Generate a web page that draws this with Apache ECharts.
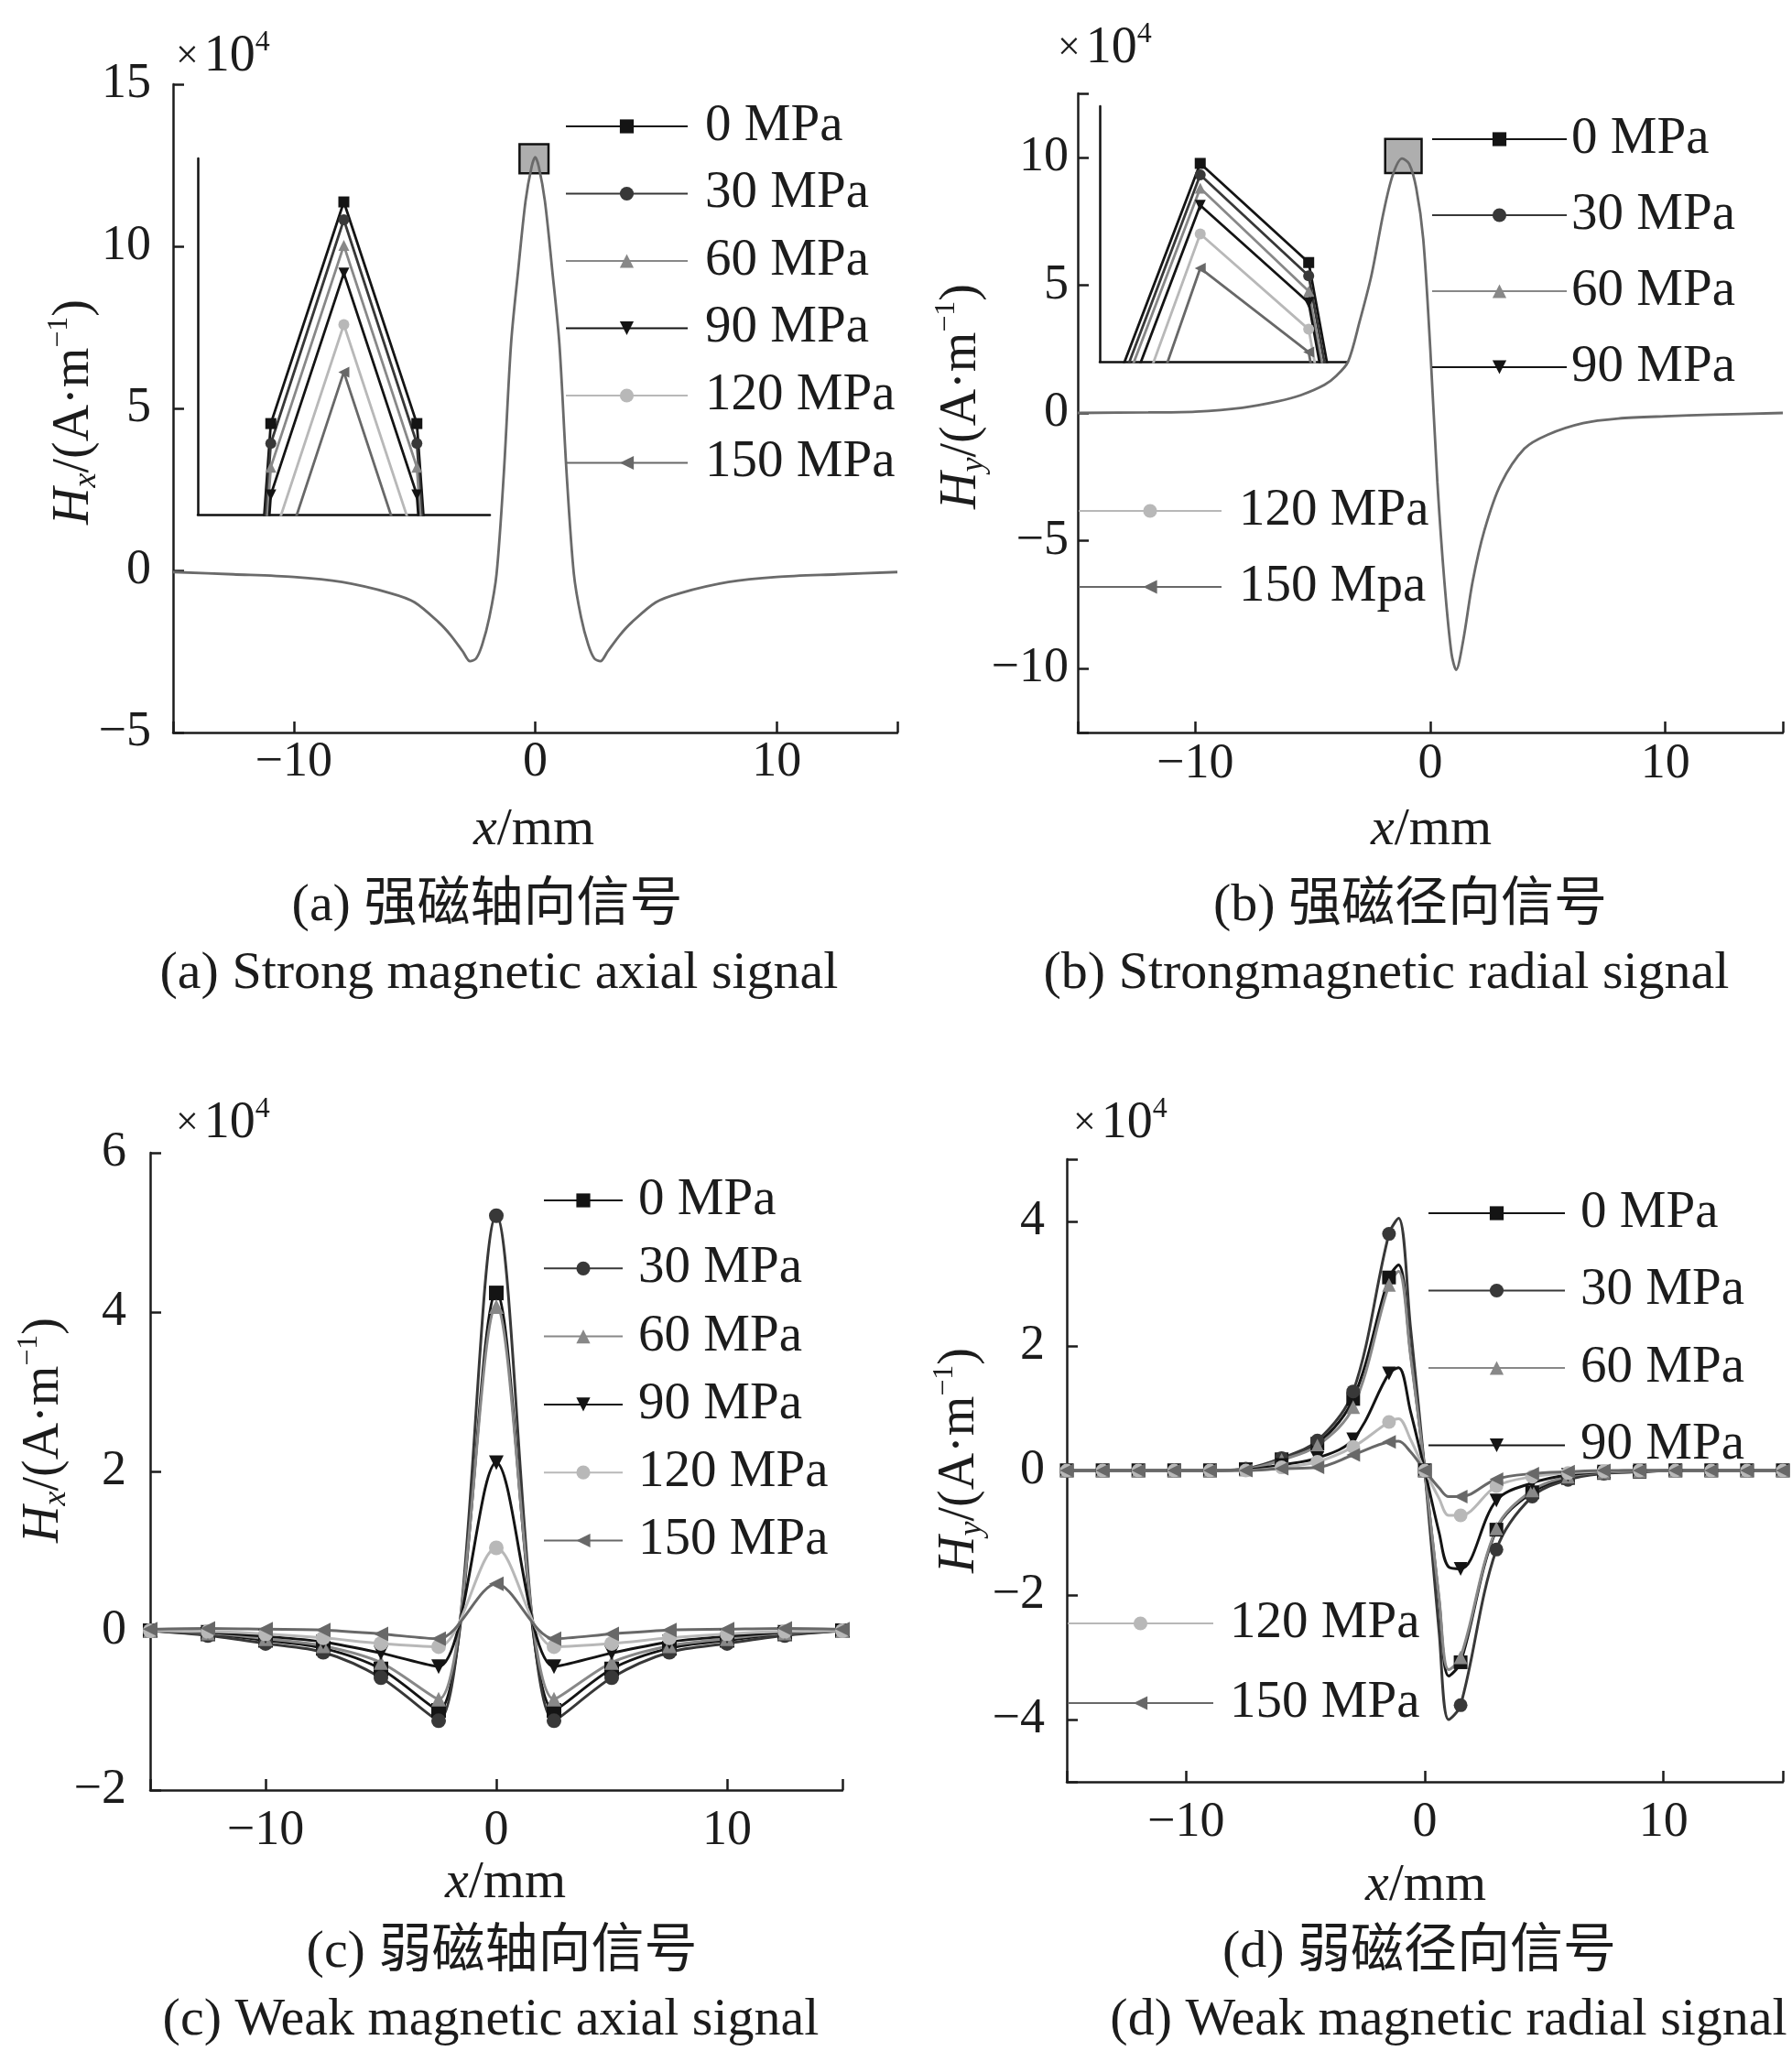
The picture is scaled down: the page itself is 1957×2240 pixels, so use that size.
<!DOCTYPE html>
<html>
<head>
<meta charset="utf-8">
<script src="https://cdn.jsdelivr.net/npm/echarts@6/dist/echarts.min.js"></script>
<style>
html,body{margin:0;padding:0;background:#ffffff;}
#chart{width:1957px;height:2240px;}
</style>
</head>
<body>
<div id="chart"></div>
<script>
// ---------------- DATA ----------------
const stressNames = ['0 MPa', '30 MPa', '60 MPa', '90 MPa', '120 MPa', '150 MPa'];

// shared tick values (x in mm)
const xTickVals = [-15, -10, 0, 10, 15];
const xLabelVals = [-10, 0, 10];

// (a) strong magnetic axial signal, Hx (x10^4 A/m) - the six curves overlap
const aX = [-15, -12.5, -10, -8, -6, -5, -4, -3.5, -3, -2.7, -2.45, -2.2, -1.9, -1.6, -1.3, -1.0, -0.7, -0.4, -0.15, 0,
            0.15, 0.4, 0.7, 1.0, 1.3, 1.6, 1.9, 2.2, 2.45, 2.7, 3, 3.5, 4, 5, 6, 8, 10, 12.5, 15];
const aY = [-0.05, -0.12, -0.2, -0.36, -0.7, -0.98, -1.6, -2.0, -2.5, -2.8, -2.72, -2.3, -1.45, -0.1, 3.0, 7.0, 9.3, 11.4, 12.45, 12.75,
            12.45, 11.4, 9.3, 7.0, 3.0, -0.1, -1.45, -2.3, -2.72, -2.8, -2.5, -2.0, -1.6, -0.98, -0.7, -0.36, -0.2, -0.12, -0.05];
const aYTicks = [-5, 0, 5, 10, 15];
// zoom window shown by the inset of (a): [xmin, ymin], [xmax, ymax]
const aBox = [[-0.65, 12.25], [0.55, 13.15]];
const aInsetX = [-0.65, -0.35, -0.05, 0.25, 0.55];
const aInset0   = [9.90, 12.48, 13.04, 12.48, 9.90];
const aInset30  = [9.85, 12.43, 12.995, 12.43, 9.85];
const aInset60  = [9.80, 12.37, 12.93, 12.37, 9.80];
const aInset90  = [9.72, 12.30, 12.86, 12.30, 9.72];
const aInset120 = [9.60, 12.17, 12.73, 12.17, 9.60];
const aInset150 = [9.48, 12.05, 12.61, 12.05, 9.48];

// (b) strong magnetic radial signal, Hy
const bX = [-15, -12, -10, -8, -6.5, -5.5, -4.5, -4, -3.5, -3, -2.5, -2, -1.6, -1.2, -0.9, -0.6, -0.3, 0,
            0.3, 0.6, 0.9, 1.1, 1.4, 1.8, 2.3, 3, 4, 5, 6.5, 8, 10, 12, 15];
const bY = [0, 0.02, 0.05, 0.2, 0.45, 0.7, 1.1, 1.45, 2.0, 3.6, 5.4, 7.8, 9.3, 9.95, 9.75, 8.8, 6.8, 2.5,
            -2.7, -6.6, -9.4, -10.05, -8.9, -6.6, -4.6, -2.78, -1.4, -0.85, -0.4, -0.22, -0.13, -0.07, 0];
const bYTicks = [-12.5, -10, -5, 0, 5, 10, 12.5];
const bYLabels = [-10, -5, 0, 5, 10];
const bBox = [[-1.92, 9.38], [-0.37, 10.72]];
const bInsetX = [-1.96, -1.29, -0.61, 0.06];
const bInset0   = [8.95, 10.42, 9.90, 6.83];
const bInset30  = [8.88, 10.36, 9.83, 6.75];
const bInset60  = [8.82, 10.29, 9.75, 6.68];
const bInset90  = [8.72, 10.20, 9.69, 6.60];
const bInset120 = [8.51, 10.05, 9.55, 6.45];
const bInset150 = [8.26, 9.87, 9.43, 6.30];

// (c) weak magnetic axial signal, Hx
const cX = [-15, -12.5, -10, -7.5, -5, -2.5, 0, 2.5, 5, 7.5, 10, 12.5, 15];
const c0   = [0, -0.04, -0.12, -0.22, -0.48, -1.00, 4.24, -1.00, -0.48, -0.22, -0.12, -0.04, 0];
const c30  = [0, -0.06, -0.16, -0.27, -0.59, -1.13, 5.21, -1.13, -0.59, -0.27, -0.16, -0.06, 0];
const c60  = [0, -0.03, -0.10, -0.19, -0.40, -0.86, 4.07, -0.86, -0.40, -0.19, -0.10, -0.03, 0];
const c90  = [0, -0.02, -0.07, -0.14, -0.28, -0.45, 2.11, -0.45, -0.28, -0.14, -0.07, -0.02, 0];
const c120 = [0, -0.01, -0.04, -0.09, -0.16, -0.20, 1.04, -0.20, -0.16, -0.09, -0.04, -0.01, 0];
const c150 = [0.02, 0.03, 0.02, 0.01, -0.04, -0.10, 0.59, -0.10, -0.04, 0.01, 0.02, 0.03, 0.02];
const cYTicks = [-2, 0, 2, 4, 6];

// (d) weak magnetic radial signal, Hy (markers every 1.5 mm, extra curve points in between)
const dX = [-15, -13.5, -12, -10.5, -9, -7.5, -6, -4.5, -3, -1.5, -1.1, -0.6, 0, 0.6, 1.0, 1.5, 3, 4.5, 6, 7.5, 9, 10.5, 12, 13.5, 15];
const d0   = [0, 0, 0, 0, 0, 0.02, 0.18, 0.43, 1.15, 3.10, 3.30, 1.90, 0, -2.10, -3.30, -3.08, -0.95, -0.35, -0.12, -0.04, -0.02, 0, 0, 0, 0];
const d30  = [0, 0, 0, 0, 0, 0.03, 0.20, 0.48, 1.27, 3.80, 4.05, 2.30, 0, -2.60, -4.00, -3.77, -1.27, -0.42, -0.15, -0.05, -0.02, 0, 0, 0, 0];
const d60  = [0, 0, 0, 0, 0, 0.02, 0.17, 0.40, 1.02, 2.98, 3.20, 1.85, 0, -2.05, -3.20, -3.00, -0.93, -0.32, -0.10, -0.03, -0.01, 0, 0, 0, 0];
const d90  = [0, 0, 0, 0, 0, 0.01, 0.09, 0.20, 0.50, 1.56, 1.65, 0.95, 0, -1.00, -1.55, -1.58, -0.48, -0.20, -0.07, -0.02, 0, 0, 0, 0, 0];
const d120 = [0, 0, 0, 0, 0, 0, 0.05, 0.14, 0.38, 0.78, 0.83, 0.50, 0, -0.45, -0.72, -0.72, -0.25, -0.10, -0.04, -0.01, 0, 0, 0, 0, 0];
const d150 = [0, 0, 0, 0, 0, 0, 0.03, 0.05, 0.25, 0.46, 0.47, 0.30, 0, -0.28, -0.42, -0.42, -0.14, -0.05, -0.02, 0, 0, 0, 0, 0, 0];
const dYTicks = [-5, -4, -2, 0, 2, 4, 5];
const dYLabels = [-4, -2, 0, 2, 4];
const dMarkerStep = 1.5;

// ---------------- STYLE ----------------
const FONT = '"Liberation Serif","Times New Roman","Noto Sans CJK SC",serif';
const TXT = '#1c1c1c';
const sColor = ['#141414', '#383838', '#888888', '#141414', '#b8b8b8', '#686868'];
const sSymbol = ['rect', 'circle', 'triangle', 'path://M0,0L2,0L1,2Z', 'circle', 'path://M2,0L2,2L0,1Z'];

const pairs = (xs, ys) => xs.map((x, i) => [x, ys[i]]);
const fmt = v => String(v).replace('-', '\u2212');

function mainX(grid, margin) {
  return {
    type: 'value', gridIndex: grid, min: -15, max: 15,
    axisLine: { onZero: false, lineStyle: { color: TXT, width: 2.5 } },
    axisTick: { inside: true, length: 12, customValues: xTickVals, lineStyle: { color: TXT, width: 2.5 } },
    axisLabel: { customValues: xLabelVals, margin: margin, fontSize: 54, fontFamily: FONT, color: TXT, formatter: fmt },
    splitLine: { show: false }
  };
}
function mainY(grid, min, max, ticks, labels, margin) {
  return {
    type: 'value', gridIndex: grid, min: min, max: max,
    axisLine: { onZero: false, lineStyle: { color: TXT, width: 2.5 } },
    axisTick: { inside: true, length: 12, customValues: ticks, lineStyle: { color: TXT, width: 2.5 } },
    axisLabel: { customValues: labels, margin: margin, fontSize: 54, fontFamily: FONT, color: TXT, formatter: fmt },
    splitLine: { show: false }
  };
}
function insetAxis(grid, min, max) {
  return {
    type: 'value', gridIndex: grid, min: min, max: max,
    axisLine: { onZero: false, lineStyle: { color: '#111', width: 2.5 } },
    axisTick: { show: false }, axisLabel: { show: false }, splitLine: { show: false }
  };
}

const grids = [
  { left: 189, top: 92, width: 791, height: 708 },    // a main
  { left: 216, top: 173, width: 319, height: 389 },   // a inset
  { left: 1177, top: 102, width: 770, height: 698 },  // b main
  { left: 1201, top: 116, width: 270, height: 279 },  // b inset
  { left: 164, top: 1259, width: 756, height: 696 },  // c
  { left: 1165, top: 1266, width: 782, height: 680 }  // d
];

const xAxes = [
  mainX(0, 6),
  insetAxis(1, aBox[0][0], aBox[1][0]),
  mainX(2, 8),
  insetAxis(3, bBox[0][0], bBox[1][0]),
  mainX(4, 18),
  mainX(5, 18)
];
const yAxes = [
  mainY(0, -5, 15, aYTicks, aYTicks, 24),
  insetAxis(1, aBox[0][1], aBox[1][1]),
  mainY(2, -12.5, 12.5, bYTicks, bYLabels, 10),
  insetAxis(3, bBox[0][1], bBox[1][1]),
  mainY(4, -2, 6, cYTicks, cYTicks, 26),
  mainY(5, -5, 5, dYTicks, dYLabels, 24)
];

function stressSeries(i, name, axis, data, symSize, smooth, lw) {
  return {
    type: 'line', name: name, xAxisIndex: axis, yAxisIndex: axis,
    data: data, symbol: sSymbol[i], symbolSize: symSize, smooth: smooth, clip: true,
    lineStyle: { color: sColor[i], width: lw }, itemStyle: { color: sColor[i] },
    emphasis: { disabled: true }
  };
}

const series = [];
// inset (a)
[aInset0, aInset30, aInset60, aInset90, aInset120, aInset150].forEach((ys, i) =>
  series.push(stressSeries(i, stressNames[i], 1, pairs(aInsetX, ys), 12, false, 2.8)));
// inset (b)
[bInset0, bInset30, bInset60, bInset90, bInset120, bInset150].forEach((ys, i) =>
  series.push(stressSeries(i, i === 5 ? '150 Mpa' : stressNames[i], 3, pairs(bInsetX, ys), 12, false, 2.8)));
// main (a)
series.push({
  type: 'line', name: 'Hx strong', xAxisIndex: 0, yAxisIndex: 0, data: pairs(aX, aY),
  showSymbol: false, smooth: 0.3, lineStyle: { color: '#6a6a6a', width: 2.8 }, emphasis: { disabled: true },
  markArea: { silent: true, itemStyle: { color: 'rgba(120,120,120,0.6)', borderColor: '#111', borderWidth: 2.5 },
    data: [[{ coord: aBox[0] }, { coord: aBox[1] }]] }
});
// main (b)
series.push({
  type: 'line', name: 'Hy strong', xAxisIndex: 2, yAxisIndex: 2, data: pairs(bX, bY),
  showSymbol: false, smooth: 0.3, lineStyle: { color: '#6a6a6a', width: 2.8 }, emphasis: { disabled: true },
  markArea: { silent: true, itemStyle: { color: 'rgba(120,120,120,0.6)', borderColor: '#111', borderWidth: 2.5 },
    data: [[{ coord: bBox[0] }, { coord: bBox[1] }]] }
});
// (c)
[c0, c30, c60, c90, c120, c150].forEach((ys, i) =>
  series.push(stressSeries(i, stressNames[i], 4, pairs(cX, ys), 16, 0.3, 3)));
// (d)
const isMarker = x => Math.abs(x / dMarkerStep - Math.round(x / dMarkerStep)) < 1e-6;
[d0, d30, d60, d90, d120, d150].forEach((ys, i) => {
  const data = dX.map((x, k) => isMarker(x) ? [x, ys[k]] : { value: [x, ys[k]], symbol: 'none' });
  series.push(stressSeries(i, stressNames[i], 5, data, 15, 0.35, 3));
});

function legend(names, left, top, w, gap, pad) {
  return {
    orient: 'vertical', left: left, top: top, padding: 0, itemWidth: w, itemHeight: 19, itemGap: gap,
    selectedMode: false, data: names,
    textStyle: { fontFamily: FONT, fontSize: 57, lineHeight: 60, color: TXT, padding: [0, 0, 0, pad] }
  };
}
const legends = [
  legend(stressNames, 617, 108, 133, 13.5, 14),
  legend(stressNames.slice(0, 4), 1563, 122, 147, 23, 0),
  legend(['120 MPa', '150 Mpa'], 1177, 528, 156, 23, 14),
  legend(stressNames, 593, 1281, 86, 14.3, 12),
  legend(stressNames.slice(0, 4), 1559, 1295, 149, 24.5, 12),
  legend(['120 MPa', '150 MPa'], 1165, 1743, 159, 27, 13)
];

function txt(x, y, text, size, align) {
  return { type: 'text', x: x, y: y, silent: true,
    style: { text: text, fontSize: size, fontFamily: FONT, fill: TXT, align: align || 'center', verticalAlign: 'middle' } };
}
function richTxt(x, y, text, rich, rotation, align) {
  return { type: 'text', x: x, y: y, rotation: rotation || 0, silent: true,
    style: { text: text, rich: rich, fontFamily: FONT, fill: TXT, align: align || 'center', verticalAlign: 'middle' } };
}
const yRich = {
  i: { fontStyle: 'italic', fontSize: 56, fontFamily: FONT, color: TXT, lineHeight: 64 },
  s: { fontStyle: 'italic', fontSize: 36, fontFamily: FONT, color: TXT, verticalAlign: 'bottom', lineHeight: 64 },
  n: { fontSize: 56, fontFamily: FONT, color: TXT, lineHeight: 64 },
  p: { fontSize: 32, fontFamily: FONT, color: TXT, verticalAlign: 'top', lineHeight: 64 }
};
const xRich = {
  i: { fontStyle: 'italic', fontSize: 58, fontFamily: FONT, color: TXT },
  n: { fontSize: 58, fontFamily: FONT, color: TXT }
};
const expRich = {
  x: { fontSize: 44, fontFamily: FONT, color: TXT, lineHeight: 62, padding: [0, 6, 0, 0] },
  n: { fontSize: 56, fontFamily: FONT, color: TXT, lineHeight: 62 },
  p: { fontSize: 32, fontFamily: FONT, color: TXT, verticalAlign: 'top', lineHeight: 62 }
};
const yName = sub => '{i|H}{s|' + sub + '}{n|/(A\u00b7m}{p|\u22121}{n|)}';
const expText = '{x|\u00d7}{n|10}{p|4}';

const graphics = [
  richTxt(81, 450, yName('x'), yRich, Math.PI / 2),
  richTxt(1050, 433, yName('y'), yRich, Math.PI / 2),
  richTxt(48, 1562, yName('x'), yRich, Math.PI / 2),
  richTxt(1048, 1595, yName('y'), yRich, Math.PI / 2),
  richTxt(192, 62, expText, expRich, 0, 'left'),
  richTxt(1155, 53, expText, expRich, 0, 'left'),
  richTxt(192, 1227, expText, expRich, 0, 'left'),
  richTxt(1172, 1227, expText, expRich, 0, 'left'),
  richTxt(583, 907, '{i|x}{n|/mm}', xRich),
  richTxt(1563, 907, '{i|x}{n|/mm}', xRich),
  richTxt(552, 2057, '{i|x}{n|/mm}', xRich),
  richTxt(1557, 2060, '{i|x}{n|/mm}', xRich),
  txt(532, 990, '(a) 强磁轴向信号', 58),
  txt(545, 1064, '(a) Strong magnetic axial signal', 58),
  txt(1540, 990, '(b) 强磁径向信号', 58),
  txt(1514, 1064, '(b) Strongmagnetic radial signal', 58),
  txt(548, 2133, '(c) 弱磁轴向信号', 58),
  txt(536, 2207, '(c) Weak magnetic axial signal', 58),
  txt(1550, 2133, '(d) 弱磁径向信号', 58),
  txt(1582, 2207, '(d) Weak magnetic radial signal', 58)
];

const chart = echarts.init(document.getElementById('chart'), null, { renderer: 'canvas' });
chart.setOption({
  backgroundColor: '#ffffff',
  animation: false,
  grid: grids,
  xAxis: xAxes,
  yAxis: yAxes,
  legend: legends,
  series: series,
  graphic: graphics
});
</script>
</body>
</html>
